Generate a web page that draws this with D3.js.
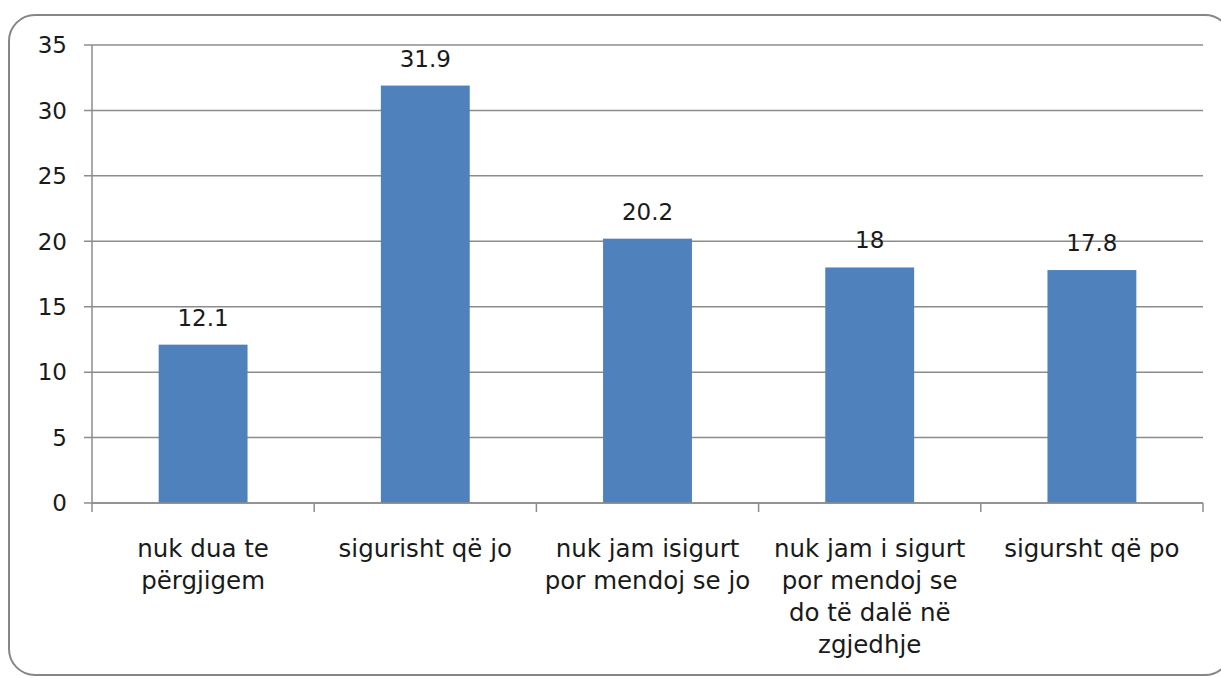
<!DOCTYPE html>
<html>
<head>
<meta charset="utf-8">
<script src="https://cdn.jsdelivr.net/npm/d3@7"></script>
<style>
  html, body { margin: 0; padding: 0; background: #fff; }
  svg { display: block; font-family: "DejaVu Sans", sans-serif; }
</style>
</head>
<body>
<div id="chart"></div>
<script>
// Data
const categories = [
  ['nuk dua te', 'përgjigem'],
  ['sigurisht që jo'],
  ['nuk jam isigurt', 'por mendoj se jo'],
  ['nuk jam i sigurt', 'por mendoj se', 'do të dalë në', 'zgjedhje'],
  ['sigursht që po']
];
const values = [12.1, 31.9, 20.2, 18, 17.8];
const yTicks = [0, 5, 10, 15, 20, 25, 30, 35];

const W = 1221, H = 678;
const plot = { left: 92, right: 1203, top: 45, bottom: 503 };
const fontSize = 23;
const catFontSize = 24.5;
const textColor = '#1a1a1a';

const svg = d3.select('#chart').append('svg')
  .attr('width', W)
  .attr('height', H);

// outer rounded frame (right edge runs off the picture)
svg.append('rect')
  .attr('x', 9).attr('y', 15)
  .attr('width', 1222).attr('height', 660)
  .attr('rx', 26).attr('ry', 26)
  .attr('fill', '#fff')
  .attr('stroke', '#868686')
  .attr('stroke-width', 2);

const keys = categories.map((c, i) => i);
const x = d3.scaleBand()
  .domain(keys)
  .range([plot.left, plot.right])
  .paddingInner(0.6)
  .paddingOuter(0.3);

// band without padding for tick boundaries
const xCat = d3.scaleBand().domain(keys).range([plot.left, plot.right]);

const y = d3.scaleLinear().domain([0, 35]).range([plot.bottom, plot.top]);

const gridColor = '#8c8c8c';

// gridlines + y tick marks
svg.append('g')
  .selectAll('line')
  .data(yTicks)
  .join('line')
  .attr('x1', plot.left - 8)
  .attr('x2', plot.right)
  .attr('y1', d => y(d))
  .attr('y2', d => y(d))
  .attr('stroke', gridColor)
  .attr('stroke-width', 1.5);

// y labels
svg.append('g')
  .selectAll('text')
  .data(yTicks)
  .join('text')
  .attr('x', 67)
  .attr('y', d => y(d))
  .attr('dy', '0.36em')
  .attr('text-anchor', 'end')
  .attr('font-size', fontSize)
  .attr('fill', textColor)
  .text(d => d);

// y axis line
svg.append('line')
  .attr('x1', plot.left).attr('x2', plot.left)
  .attr('y1', plot.top).attr('y2', plot.bottom)
  .attr('stroke', gridColor)
  .attr('stroke-width', 1.5);

// bars
svg.append('g')
  .selectAll('rect')
  .data(values)
  .join('rect')
  .attr('x', (d, i) => x(i))
  .attr('width', x.bandwidth())
  .attr('y', d => y(d))
  .attr('height', d => y(0) - y(d))
  .attr('fill', '#4f81bd');

// x axis line + category boundary ticks
svg.append('line')
  .attr('x1', plot.left).attr('x2', plot.right)
  .attr('y1', plot.bottom).attr('y2', plot.bottom)
  .attr('stroke', gridColor)
  .attr('stroke-width', 1.5);

const bounds = keys.map(k => xCat(k)).concat([plot.right]);
svg.append('g')
  .selectAll('line')
  .data(bounds)
  .join('line')
  .attr('x1', d => d).attr('x2', d => d)
  .attr('y1', plot.bottom).attr('y2', plot.bottom + 9)
  .attr('stroke', gridColor)
  .attr('stroke-width', 1.5);

// value labels
svg.append('g')
  .selectAll('text')
  .data(values)
  .join('text')
  .attr('x', (d, i) => x(i) + x.bandwidth() / 2)
  .attr('y', d => y(d) - 19)
  .attr('text-anchor', 'middle')
  .attr('font-size', fontSize)
  .attr('fill', textColor)
  .text(d => d);

// category labels (multi-line)
const catText = svg.append('g')
  .selectAll('text')
  .data(categories)
  .join('text')
  .attr('text-anchor', 'middle')
  .attr('font-size', catFontSize)
  .attr('fill', textColor)
  .attr('transform', (d, i) => `translate(${xCat(i) + xCat.bandwidth() / 2},557)`);

catText.selectAll('tspan')
  .data(d => d)
  .join('tspan')
  .attr('x', 0)
  .attr('y', (d, j) => j * 32)
  .text(d => d);
</script>
</body>
</html>
